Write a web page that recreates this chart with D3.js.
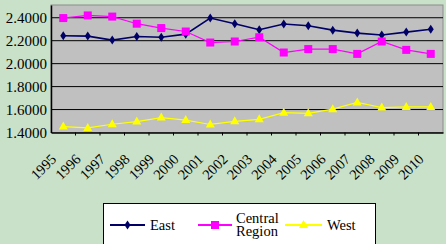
<!DOCTYPE html>
<html lang="en">
<head>
<meta charset="UTF-8">
<title>East / Central Region / West</title>
<script src="https://d3js.org/d3.v7.min.js"></script>
</head>
<body style="margin:0; background:#c8e1c8">
<svg width="446" height="244" style="display:block"></svg>
<script>
const years = ["1995","1996","1997","1998","1999","2000","2001","2002","2003","2004","2005","2006","2007","2008","2009","2010"];
const east    = [2.243, 2.240, 2.205, 2.237, 2.230, 2.257, 2.397, 2.348, 2.295, 2.345, 2.330, 2.292, 2.266, 2.250, 2.275, 2.300];
const central = [2.397, 2.420, 2.410, 2.348, 2.310, 2.280, 2.184, 2.193, 2.230, 2.097, 2.127, 2.127, 2.085, 2.193, 2.120, 2.085];
const west    = [1.452, 1.440, 1.472, 1.495, 1.530, 1.508, 1.470, 1.497, 1.515, 1.573, 1.567, 1.603, 1.662, 1.617, 1.623, 1.623];
const yTicks  = [1.4, 1.6, 1.8, 2.0, 2.2, 2.4];

const series = [
  { name: "East", values: east, color: "#000066", marker: "diamond" },
  { name: "Central Region", values: central, color: "#ff00ff", marker: "square" },
  { name: "West", values: west, color: "#ffff00", marker: "triangle" }
];

const svg = d3.select("svg");
const plotL = 51, plotR = 443, plotT = 5, plotB = 132.5;

const x = d3.scaleBand().domain(years).range([plotL, plotR]);
const y = d3.scaleLinear().domain([1.4, 2.511]).range([plotB, plotT]);

// plot area
svg.append("rect")
  .attr("x", plotL).attr("y", plotT)
  .attr("width", plotR - plotL).attr("height", plotB - plotT)
  .attr("fill", "#c0c0c0")
  .attr("stroke", "#8c8c8c").attr("stroke-width", 1);

// gridlines
svg.append("g").selectAll("line")
  .data(yTicks.slice(1))
  .join("line")
  .attr("x1", plotL).attr("x2", plotR)
  .attr("y1", d => y(d)).attr("y2", d => y(d))
  .attr("stroke", "#000").attr("stroke-width", 1);

// y axis
const yAxis = svg.append("g")
  .attr("transform", `translate(${plotL},0)`)
  .call(d3.axisLeft(y).tickValues(yTicks).tickFormat(d3.format(".4f")).tickSize(0).tickPadding(4));
yAxis.attr("font-family", "Liberation Serif").attr("font-size", 15);
yAxis.select(".domain").attr("stroke", "#000").attr("stroke-width", 1.5);
yAxis.selectAll("text")
  .style("font-family", "Liberation Serif")
  .style("font-size", "15px")
  .attr("fill", "#000");

// x axis
const xAxis = svg.append("g")
  .attr("transform", `translate(0,${plotB})`)
  .call(d3.axisBottom(x).tickSize(0).tickFormat(""));
xAxis.select(".domain").attr("stroke", "#000").attr("stroke-width", 1.5);
xAxis.selectAll(".tick").remove();
xAxis.selectAll("line.sep")
  .data(years.slice(1))
  .join("line")
  .attr("class", "sep")
  .attr("x1", d => x(d)).attr("x2", d => x(d))
  .attr("y1", 0).attr("y2", 3)
  .attr("stroke", "#000");

svg.append("g").selectAll("text")
  .data(years)
  .join("text")
  .attr("text-anchor", "end")
  .style("font-family", "Liberation Serif")
  .style("font-size", "14.5px")
  .attr("transform", d => `translate(${x(d) + x.bandwidth() / 2 - 6},160) rotate(-45)`)
  .text(d => d);

const cx = d => x(d) + x.bandwidth() / 2;

function marker(sel, type, color) {
  if (type === "diamond") {
    sel.append("path").attr("d", "M0,-4.5L3,0L0,4.5L-3,0Z").attr("fill", color);
  } else if (type === "square") {
    sel.append("rect").attr("x", -4).attr("y", -4).attr("width", 8).attr("height", 8).attr("fill", color);
  } else {
    sel.append("path").attr("d", "M0,-5L4.5,3L-4.5,3Z").attr("fill", color);
  }
}

const line = d3.line().x((d, i) => cx(years[i])).y(d => y(d));

series.forEach(s => {
  svg.append("path")
    .attr("d", line(s.values))
    .attr("fill", "none")
    .attr("stroke", s.color)
    .attr("stroke-width", s.marker === "diamond" ? 1.6 : 1.2);
  s.values.forEach((v, i) => {
    const g = svg.append("g").attr("transform", `translate(${cx(years[i])},${y(v)})`);
    marker(g, s.marker, s.color);
  });
});

// legend
const lg = svg.append("g");
lg.append("rect")
  .attr("x", 103.5).attr("y", 203.5)
  .attr("width", 272).attr("height", 45)
  .attr("fill", "#fff").attr("stroke", "#000").attr("stroke-width", 1);

const legendItems = [
  { s: series[0], x1: 110, x2: 145, tx: 150 },
  { s: series[1], x1: 198, x2: 232, tx: 236 },
  { s: series[2], x1: 285, x2: 322, tx: 327 }
];
legendItems.forEach(it => {
  const ly = 225;
  lg.append("line")
    .attr("x1", it.x1).attr("x2", it.x2).attr("y1", ly).attr("y2", ly)
    .attr("stroke", it.s.color).attr("stroke-width", 2);
  marker(lg.append("g").attr("transform", `translate(${(it.x1 + it.x2) / 2},${ly})`), it.s.marker, it.s.color);
  const words = it.s.name === "Central Region" ? ["Central", "Region"] : [it.s.name];
  words.forEach((w, k) => {
    lg.append("text")
      .attr("x", it.tx)
      .attr("y", words.length === 1 ? ly + 5 : ly - 2 + k * 13)
      .style("font-family", "Liberation Serif")
      .style("font-size", "14.5px")
      .text(w);
  });
});
</script>
</body>
</html>
